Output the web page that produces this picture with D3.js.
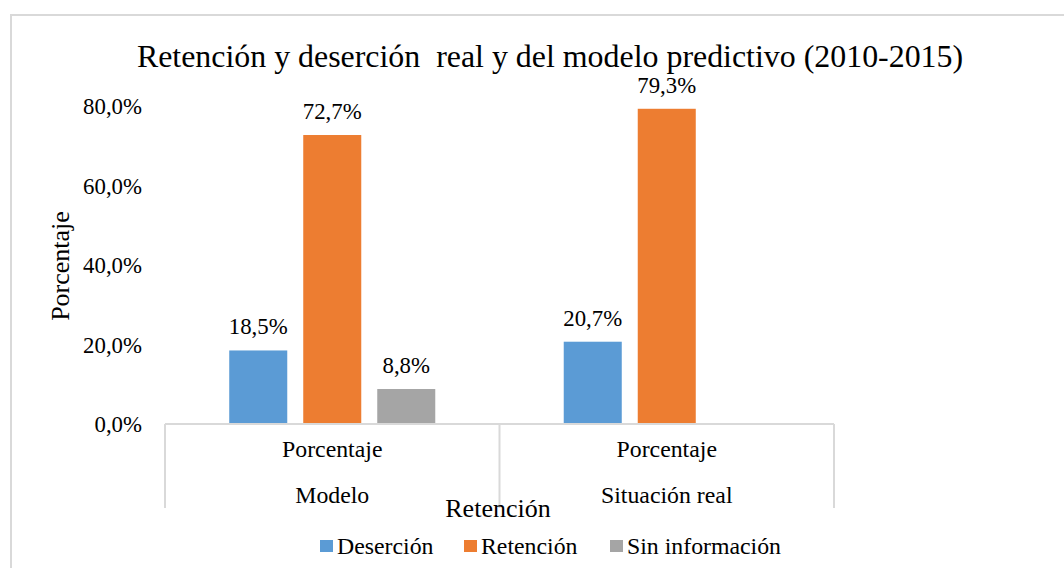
<!DOCTYPE html>
<html>
<head>
<meta charset="utf-8">
<script src="https://cdnjs.cloudflare.com/ajax/libs/d3/7.8.5/d3.min.js"></script>
<style>
  html, body { margin: 0; padding: 0; background: #fff; }
  svg { display: block; }
  svg text { font-family: "Liberation Serif", "Times New Roman", Times, serif !important; fill: #000; }
</style>
</head>
<body>
<svg id="chart" width="1064" height="568"></svg>
<script>
// ---- data ----
const title = "Retención y deserción  real y del modelo predictivo (2010-2015)";
const groups = ["Modelo", "Situación real"];
const subLabels = ["Porcentaje", "Porcentaje"];
const seriesNames = ["Deserción", "Retención", "Sin información"];
const seriesColors = ["#5b9bd5", "#ed7d31", "#a5a5a5"];
const desercion = [0.185, 0.207];
const retencion = [0.727, 0.793];
const sinInformacion = [0.088, null];
const yTicks = [0, 0.2, 0.4, 0.6, 0.8];
const yTitle = "Porcentaje";
const xTitle = "Retención";

const seriesValues = [desercion, retencion, sinInformacion];
const SERIF = "'Liberation Serif', 'Times New Roman', Times, serif";

const svg = d3.select("#chart");
const fmt = v => d3.format(".1f")(v * 100).replace(".", ",") + "%";

// outer chart border
svg.append("rect")
  .attr("x", 11).attr("y", 15)
  .attr("width", 1100).attr("height", 600)
  .attr("fill", "none").attr("stroke", "#d9d9d9").attr("stroke-width", 2);

const plot = { left: 165, right: 834, top: 106, bottom: 424 };

const x0 = d3.scaleBand().domain(groups).range([plot.left, plot.right]).padding(0);
const x1 = d3.scaleBand().domain(seriesNames).range([0, x0.bandwidth()])
  .paddingInner(0.216).paddingOuter(0.868);
const y = d3.scaleLinear().domain([0, 0.8]).range([plot.bottom, plot.top]);

// title
svg.append("text")
  .attr("x", 550).attr("y", 67)
  .attr("text-anchor", "middle")
  .attr("xml:space", "preserve")
  .style("white-space", "pre")
  .style("font-family", SERIF)
  .style("font-size", "31.9px")
  .text(title);

// y axis (labels only)
const yAxis = d3.axisLeft(y).tickValues(yTicks).tickFormat(fmt).tickSize(0).tickPadding(0);
const gy = svg.append("g").attr("transform", `translate(142,0)`).call(yAxis)
  .attr("font-family", SERIF);
gy.select(".domain").remove();
gy.selectAll("text")
  .style("font-size", "22.8px")
  .style("font-family", SERIF)
  .attr("fill", "#000")
  .attr("dy", "0.33em");

// y title
svg.append("text")
  .attr("transform", "translate(69,266) rotate(-90)")
  .attr("text-anchor", "middle")
  .style("font-family", SERIF)
  .style("font-size", "26px")
  .text(yTitle);

// bars
const bars = [];
groups.forEach((g, gi) => {
  seriesNames.forEach((s, si) => {
    const v = seriesValues[si][gi];
    if (v !== null && v !== undefined) bars.push({ g, s, v, color: seriesColors[si] });
  });
});

svg.append("g").selectAll("rect").data(bars).join("rect")
  .attr("x", d => x0(d.g) + x1(d.s))
  .attr("width", x1.bandwidth())
  .attr("y", d => y(d.v))
  .attr("height", d => y(0) - y(d.v))
  .attr("fill", d => d.color);

svg.append("g").selectAll("text").data(bars).join("text")
  .attr("x", d => x0(d.g) + x1(d.s) + x1.bandwidth() / 2)
  .attr("y", d => y(d.v) - 16)
  .attr("text-anchor", "middle")
  .style("font-family", SERIF)
  .style("font-size", "22.8px")
  .text(d => fmt(d.v));

// category axis box
const axisG = svg.append("g").attr("stroke", "#d9d9d9").attr("stroke-width", 2).attr("fill", "none");
axisG.append("line").attr("x1", plot.left).attr("x2", plot.right)
  .attr("y1", plot.bottom).attr("y2", plot.bottom);
const bounds = groups.map(g => x0(g)).concat([plot.right]);
axisG.selectAll("line.v").data(bounds).join("line").attr("class", "v")
  .attr("x1", d => d).attr("x2", d => d)
  .attr("y1", plot.bottom).attr("y2", 508);

// category labels
svg.append("g").selectAll("text").data(groups).join("text")
  .attr("x", g => x0(g) + x0.bandwidth() / 2)
  .attr("y", 457)
  .attr("text-anchor", "middle")
  .style("font-family", SERIF)
  .style("font-size", "23.8px")
  .text((g, i) => subLabels[i]);
svg.append("g").selectAll("text").data(groups).join("text")
  .attr("x", g => x0(g) + x0.bandwidth() / 2)
  .attr("y", 503)
  .attr("text-anchor", "middle")
  .style("font-family", SERIF)
  .style("font-size", "23.8px")
  .text(g => g);

// x title
svg.append("text")
  .attr("x", 498).attr("y", 517)
  .attr("text-anchor", "middle")
  .style("font-family", SERIF)
  .style("font-size", "26px")
  .text(xTitle);

// legend
const legendX = [320, 464, 610];
const lg = svg.append("g").selectAll("g").data(seriesNames).join("g")
  .attr("transform", (d, i) => `translate(${legendX[i]},546)`);
lg.append("rect").attr("x", 0).attr("y", -6).attr("width", 13).attr("height", 12)
  .attr("fill", (d, i) => seriesColors[i]);
lg.append("text").attr("x", 17).attr("y", 8)
  .style("font-family", SERIF)
  .style("font-size", "23.8px")
  .text(d => d);
</script>
</body>
</html>
